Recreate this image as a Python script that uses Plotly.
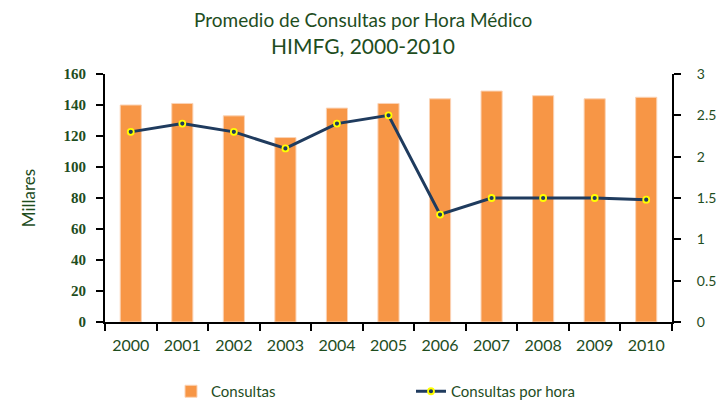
import plotly.graph_objects as go

years = ["2000", "2001", "2002", "2003", "2004", "2005", "2006", "2007", "2008", "2009", "2010"]
consultas = [140, 141, 133, 119, 138, 141, 144, 149, 146, 144, 145]
por_hora = [2.3, 2.4, 2.3, 2.1, 2.4, 2.5, 1.3, 1.5, 1.5, 1.5, 1.48]
left_ticks = [0, 20, 40, 60, 80, 100, 120, 140, 160]
right_ticks = [0, 0.5, 1, 1.5, 2, 2.5, 3]
right_labels = ["0", "0.5", "1", "1.5", "2", "2.5", "3"]
title_line1 = "Promedio de Consultas por Hora Médico"
title_line2 = "HIMFG, 2000-2010"

green = "#1e4d1e"
fancy = "Lato, 'Open Sans', sans-serif"

W, H = 725, 403
ML, MR, MT, MB = 105, 53, 74, 81
plot_h = H - MT - MB
plot_w = W - ML - MR

def py(page_y):
    return 1 + (MT - page_y) / plot_h

def px(page_x):
    return (page_x - ML) / plot_w

fig = go.Figure()
fig.add_trace(go.Bar(
    x=years, y=consultas, name="Consultas",
    marker=dict(color="#f79646", line=dict(color="#fbd3b5", width=1)),
    yaxis="y",
))
fig.add_trace(go.Scatter(
    x=years, y=por_hora, name="Consultas por hora", mode="lines+markers",
    line=dict(color="#1f3b5e", width=3),
    marker=dict(color="#1f3b5e", size=6, line=dict(color="#ffff00", width=1.8)),
    yaxis="y2",
))

fig.update_layout(
    width=W, height=H,
    margin=dict(l=ML, r=MR, t=MT, b=MB, autoexpand=False),
    paper_bgcolor="white", plot_bgcolor="white",
    annotations=[
        dict(text=title_line1, x=px(362.5), xref="paper", xanchor="center",
             y=py(20), yref="paper", yanchor="middle", showarrow=False,
             font=dict(family=fancy, size=19, color=green)),
        dict(text=title_line2, x=px(362.5), xref="paper", xanchor="center",
             y=py(45), yref="paper", yanchor="middle", showarrow=False,
             font=dict(family=fancy, size=21, color=green)),
    ],
    bargap=0.59,
    showlegend=True,
    legend=dict(
        orientation="h", x=px(171), xanchor="left", y=py(375), yanchor="top",
        font=dict(family=fancy, size=15, color=green),
        entrywidth=195, entrywidthmode="pixels",
    ),
    xaxis=dict(
        type="category", range=[-0.5, len(years) - 0.5],
        showline=True, linecolor="black", linewidth=2,
        ticks="outside", ticklen=7, tickwidth=2, tickcolor="black",
        tickson="boundaries", showgrid=False, ticklabelstandoff=8,
        tickfont=dict(family=fancy, size=16, color=green),
    ),
    yaxis=dict(
        range=[0, 160], tickvals=left_ticks, showline=True, linecolor="black", linewidth=2,
        ticks="outside", ticklen=7, tickwidth=2, tickcolor="black", showgrid=False,
        zeroline=False, ticklabelstandoff=7,
        tickfont=dict(family="'Liberation Serif', serif", size=15, color=green, weight="bold"),
        title=dict(text="Millares", font=dict(family=fancy, size=17, color=green), standoff=24),
    ),
    yaxis2=dict(
        range=[0, 3], tickvals=right_ticks, ticktext=right_labels, overlaying="y", side="right",
        showline=True, linecolor="black", linewidth=2,
        ticks="outside", ticklen=7, tickwidth=2, tickcolor="black", showgrid=False,
        zeroline=False, ticklabelstandoff=13,
        tickfont=dict(family=fancy, size=14, color=green),
    ),
)

fig.write_html(
    "out.html",
    config={"displayModeBar": False},
    post_script="document.body.style.margin='0';document.body.style.overflow='hidden';",
)
